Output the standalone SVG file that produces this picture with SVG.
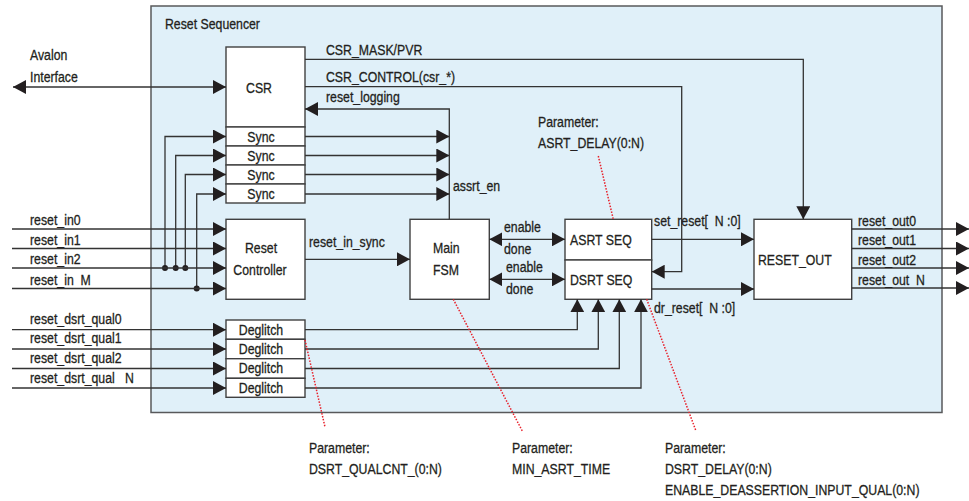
<svg xmlns="http://www.w3.org/2000/svg" width="969" height="501" viewBox="0 0 969 501">
<style>
text{font-family:"Liberation Sans",Arial,sans-serif;font-size:15px;fill:#231f20;stroke:#231f20;stroke-width:0.3;white-space:pre}
.mid{text-anchor:middle}
.box{fill:#fff;stroke:#404041;stroke-width:1.4}
.wire{fill:none;stroke:#333;stroke-width:1.3}
.red{fill:none;stroke:#e8202a;stroke-width:1.5;stroke-dasharray:1.5 1.5}
</style>
<defs>
<marker id="ah" viewBox="0 0 13 14" refX="13" refY="7" markerWidth="13" markerHeight="14" markerUnits="userSpaceOnUse" orient="auto-start-reverse">
<path d="M0,0 L13,7 L0,14 z" fill="#231f20"/>
</marker>
</defs>
<g id="reset-sequencer">
<rect x="151" y="6" width="791" height="406.5" fill="#e0f0f9" stroke="#58595b" stroke-width="1.5"/>
<text transform="translate(165 29) scale(0.82 1)">Reset Sequencer</text>
</g>
<g id="csr"><rect class="box" x="226" y="47" width="79" height="80"/><text class="mid" transform="translate(259 93) scale(0.82 1)">CSR</text></g>
<g id="sync0"><rect class="box" x="226" y="127" width="79" height="19"/><text class="mid" transform="translate(261 141.5) scale(0.82 1)">Sync</text></g>
<g id="sync1"><rect class="box" x="226" y="146" width="79" height="19"/><text class="mid" transform="translate(261 160.5) scale(0.82 1)">Sync</text></g>
<g id="sync2"><rect class="box" x="226" y="165" width="79" height="19"/><text class="mid" transform="translate(261 179.5) scale(0.82 1)">Sync</text></g>
<g id="sync3"><rect class="box" x="226" y="184" width="79" height="19"/><text class="mid" transform="translate(261 198.5) scale(0.82 1)">Sync</text></g>
<g id="reset-controller"><rect class="box" x="226" y="219.3" width="79" height="80"/><text class="mid" transform="translate(261 253) scale(0.82 1)">Reset</text><text class="mid" transform="translate(260 275) scale(0.82 1)">Controller</text></g>
<g id="deglitch0"><rect class="box" x="226" y="320" width="79" height="19.3"/><text class="mid" transform="translate(261 334.5) scale(0.82 1)">Deglitch</text></g>
<g id="deglitch1"><rect class="box" x="226" y="339.3" width="79" height="19.4"/><text class="mid" transform="translate(261 353.8) scale(0.82 1)">Deglitch</text></g>
<g id="deglitch2"><rect class="box" x="226" y="358.7" width="79" height="19.6"/><text class="mid" transform="translate(261 373.3) scale(0.82 1)">Deglitch</text></g>
<g id="deglitch3"><rect class="box" x="226" y="378.3" width="79" height="19"/><text class="mid" transform="translate(261 392.8) scale(0.82 1)">Deglitch</text></g>
<g id="main-fsm"><rect class="box" x="410" y="219.3" width="79.3" height="80"/><text transform="translate(433 253) scale(0.82 1)">Main</text><text transform="translate(433 275) scale(0.82 1)">FSM</text></g>
<g id="asrt-seq"><rect class="box" x="565" y="219.3" width="86.7" height="40.7"/><text transform="translate(570 245) scale(0.82 1)">ASRT SEQ</text></g>
<g id="dsrt-seq"><rect class="box" x="565" y="260" width="86.7" height="39.3"/><text transform="translate(570 285) scale(0.82 1)">DSRT SEQ</text></g>
<g id="reset-out"><rect class="box" x="754" y="219.3" width="97.7" height="80"/><text transform="translate(758 265) scale(0.82 1)">RESET_OUT</text></g>
<g id="connectors">
<path class="wire" d="M13,87 H226" marker-start="url(#ah)" marker-end="url(#ah)"/>
<path class="wire" d="M305,59.3 H803.3 V219.3" marker-end="url(#ah)"/>
<path class="wire" d="M305,86.7 H681.7 V271.7 H651.7" marker-end="url(#ah)"/>
<path class="wire" d="M449.3,219.3 V109 H305" marker-end="url(#ah)"/>
<path class="wire" d="M305,136.5 H449.3" marker-end="url(#ah)"/>
<path class="wire" d="M305,155.5 H449.3" marker-end="url(#ah)"/>
<path class="wire" d="M305,174.5 H449.3" marker-end="url(#ah)"/>
<path class="wire" d="M305,194 H449.3" marker-end="url(#ah)"/>
<path class="wire" d="M165,268 V136.5 H226" marker-end="url(#ah)"/>
<path class="wire" d="M175.7,268 V155.5 H226" marker-end="url(#ah)"/>
<path class="wire" d="M185.3,268 V174.5 H226" marker-end="url(#ah)"/>
<path class="wire" d="M196.7,288.5 V194 H226" marker-end="url(#ah)"/>
<circle cx="165" cy="268" r="3" fill="#231f20"/>
<circle cx="175.7" cy="268" r="3" fill="#231f20"/>
<circle cx="185.3" cy="268" r="3" fill="#231f20"/>
<circle cx="196.7" cy="288.5" r="3" fill="#231f20"/>
<path class="wire" d="M12,229 H226" marker-end="url(#ah)"/>
<path class="wire" d="M12,248.5 H226" marker-end="url(#ah)"/>
<path class="wire" d="M12,268 H226" marker-end="url(#ah)"/>
<path class="wire" d="M12,288.5 H226" marker-end="url(#ah)"/>
<path class="wire" d="M12,329.7 H226" marker-end="url(#ah)"/>
<path class="wire" d="M12,349 H226" marker-end="url(#ah)"/>
<path class="wire" d="M12,368.5 H226" marker-end="url(#ah)"/>
<path class="wire" d="M12,388 H226" marker-end="url(#ah)"/>
<path class="wire" d="M305,329.7 H577.3 V299.3" marker-end="url(#ah)"/>
<path class="wire" d="M305,349 H598.3 V299.3" marker-end="url(#ah)"/>
<path class="wire" d="M305,368.5 H619.3 V299.3" marker-end="url(#ah)"/>
<path class="wire" d="M305,388 H641 V299.3" marker-end="url(#ah)"/>
<path class="wire" d="M305,259.3 H410" marker-end="url(#ah)"/>
<path class="wire" d="M489.3,239.3 H565" marker-start="url(#ah)" marker-end="url(#ah)"/>
<path class="wire" d="M489.3,279.3 H565" marker-start="url(#ah)" marker-end="url(#ah)"/>
<path class="wire" d="M651.7,239.3 H754" marker-end="url(#ah)"/>
<path class="wire" d="M651.7,289 H754" marker-end="url(#ah)"/>
<path class="wire" d="M851.7,229 H969" marker-end="url(#ah)"/>
<path class="wire" d="M851.7,248.5 H969" marker-end="url(#ah)"/>
<path class="wire" d="M851.7,268 H969" marker-end="url(#ah)"/>
<path class="wire" d="M851.7,288 H969" marker-end="url(#ah)"/>
<path class="red" d="M598.3,156 L613.3,219.3"/>
<path class="red" d="M305,340 L325,427"/>
<path class="red" d="M453.3,299.3 L522.3,431"/>
<path class="red" d="M646.7,299.3 L696,431"/>
</g>
<g id="labels">
<text transform="translate(30 60) scale(0.82 1)">Avalon</text>
<text transform="translate(30 81.5) scale(0.82 1)">Interface</text>
<text transform="translate(326 55) scale(0.82 1)">CSR_MASK/PVR</text>
<text transform="translate(326 81.5) scale(0.82 1)">CSR_CONTROL(csr_*)</text>
<text transform="translate(326 102) scale(0.82 1)">reset_logging</text>
<text transform="translate(538 126.5) scale(0.82 1)">Parameter:</text>
<text transform="translate(538 148) scale(0.82 1)">ASRT_DELAY(0:N)</text>
<text transform="translate(453 190.5) scale(0.82 1)">assrt_en</text>
<text transform="translate(30 225) scale(0.82 1)">reset_in0</text>
<text transform="translate(30 244.5) scale(0.82 1)">reset_in1</text>
<text transform="translate(30 264) scale(0.82 1)">reset_in2</text>
<text transform="translate(30 284.5) scale(0.82 1)">reset_in  M</text>
<text transform="translate(30 323.5) scale(0.82 1)">reset_dsrt_qual0</text>
<text transform="translate(30 342.5) scale(0.82 1)">reset_dsrt_qual1</text>
<text transform="translate(30 362.5) scale(0.82 1)">reset_dsrt_qual2</text>
<text transform="translate(30 382.5) scale(0.82 1)">reset_dsrt_qual   N</text>
<text transform="translate(309 246.5) scale(0.82 1)">reset_in_sync</text>
<text transform="translate(504 232) scale(0.82 1)">enable</text>
<text transform="translate(504 253.5) scale(0.82 1)">done</text>
<text transform="translate(506 271.5) scale(0.82 1)">enable</text>
<text transform="translate(506 293.5) scale(0.82 1)">done</text>
<text transform="translate(654 226) scale(0.82 1)">set_reset[  N :0]</text>
<text transform="translate(654 312.5) scale(0.82 1)">dr_reset[  N :0]</text>
<text transform="translate(858 226) scale(0.82 1)">reset_out0</text>
<text transform="translate(858 245) scale(0.82 1)">reset_out1</text>
<text transform="translate(858 264.5) scale(0.82 1)">reset_out2</text>
<text transform="translate(858 284.5) scale(0.82 1)">reset_out  N</text>
<text transform="translate(309 453) scale(0.82 1)">Parameter:</text>
<text transform="translate(309 474) scale(0.82 1)">DSRT_QUALCNT_(0:N)</text>
<text transform="translate(512 453) scale(0.82 1)">Parameter:</text>
<text transform="translate(512 474) scale(0.82 1)">MIN_ASRT_TIME</text>
<text transform="translate(665 453) scale(0.82 1)">Parameter:</text>
<text transform="translate(665 474) scale(0.82 1)">DSRT_DELAY(0:N)</text>
<text transform="translate(665 495) scale(0.82 1)">ENABLE_DEASSERTION_INPUT_QUAL(0:N)</text>
</g>
</svg>
